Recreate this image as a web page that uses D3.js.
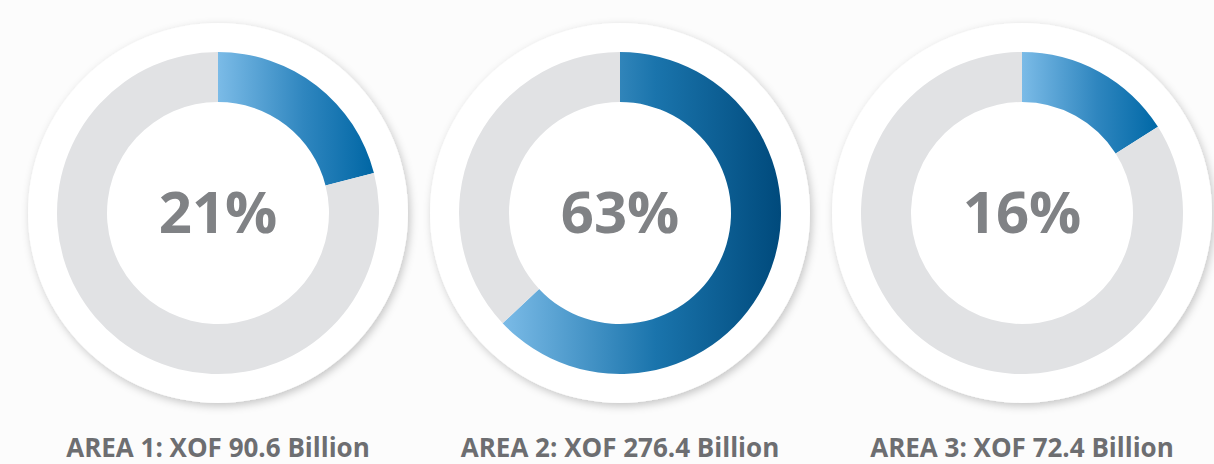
<!DOCTYPE html>
<html>
<head>
<meta charset="utf-8">
<script src="https://cdn.jsdelivr.net/npm/d3@7"></script>
<style>
  body { margin: 0; background: #fcfcfc; }
  svg { display: block; }
</style>
</head>
<body>
<div id="chart"></div>
<script>
const width = 1214;
const height = 464;

// data
const areas = ["AREA 1", "AREA 2", "AREA 3"];
const amounts = ["90.6", "276.4", "72.4"];
const shares = [21, 63, 16];

const centerY = 213;
const R_PLATE = 190;
const R_OUT = 161;
const R_IN = 111;

var xScale = d3.scaleBand()
    .domain(areas)
    .range([17, 1223]);

var svg = d3.select('#chart')
    .append("svg")
    .attr('width', width)
    .attr('height', height);

var defs = svg.append('defs');

// soft shadow under the white plates
var shadow = defs.append('filter')
    .attr('id', 'shadow')
    .attr('x', '-20%').attr('y', '-20%')
    .attr('width', '140%').attr('height', '140%');
shadow.append('feDropShadow')
    .attr('dx', 2)
    .attr('dy', 3)
    .attr('stdDeviation', 4)
    .attr('flood-color', '#000')
    .attr('flood-opacity', 0.22);

// blue gradient, left to right over each arc
var endColors = ["#0066a4", "#004a7c", "#0068a6"];
areas.forEach(function(a, i) {
    var g = defs.append('linearGradient')
        .attr('id', 'grad' + i)
        .attr('x1', '0%').attr('x2', '100%')
        .attr('y1', '0%').attr('y2', '0%');
    g.append('stop').attr('offset', '0%').attr('stop-color', '#7bbbe7');
    g.append('stop').attr('offset', '55%').attr('stop-color', i == 1 ? '#1a74ac' : '#2f86bf');
    g.append('stop').attr('offset', '100%').attr('stop-color', endColors[i]);
});

var pie = d3.pie().sort(null).value(d => d);
var arc = d3.arc().innerRadius(R_IN).outerRadius(R_OUT);

var groups = svg.selectAll('g.donut')
    .data(areas)
    .join('g')
    .attr('class', 'donut')
    .attr('transform', d => `translate(${xScale(d) + xScale.bandwidth() / 2}, ${centerY})`);

groups.append('circle')
    .attr('r', R_PLATE)
    .attr('fill', '#ffffff')
    .attr('filter', 'url(#shadow)');

groups.each(function(a, i) {
    var slices = pie([shares[i], 100 - shares[i]]);
    d3.select(this).selectAll('path')
        .data(slices)
        .join('path')
        .attr('d', arc)
        .attr('fill', (d, j) => j == 0 ? `url(#grad${i})` : '#e1e2e4');
});

groups.append('text')
    .attr('y', 20)
    .attr('text-anchor', 'middle')
    .attr('font-family', 'Open Sans, Noto Sans, sans-serif')
    .attr('font-weight', 'bold')
    .attr('font-size', '58px')
    .attr('fill', '#808285')
    .text((d, i) => shares[i] + '%');

// labels under each donut
svg.selectAll('text.label')
    .data(areas)
    .join('text')
    .attr('class', 'label')
    .attr('x', d => xScale(d) + xScale.bandwidth() / 2)
    .attr('y', 457)
    .attr('text-anchor', 'middle')
    .attr('font-family', 'Open Sans, Noto Sans, sans-serif')
    .attr('font-weight', 'bold')
    .attr('font-size', '26px')
    .attr('fill', '#6d6e71')
    .text((d, i) => `${d}: XOF ${amounts[i]} Billion`);
</script>
</body>
</html>
